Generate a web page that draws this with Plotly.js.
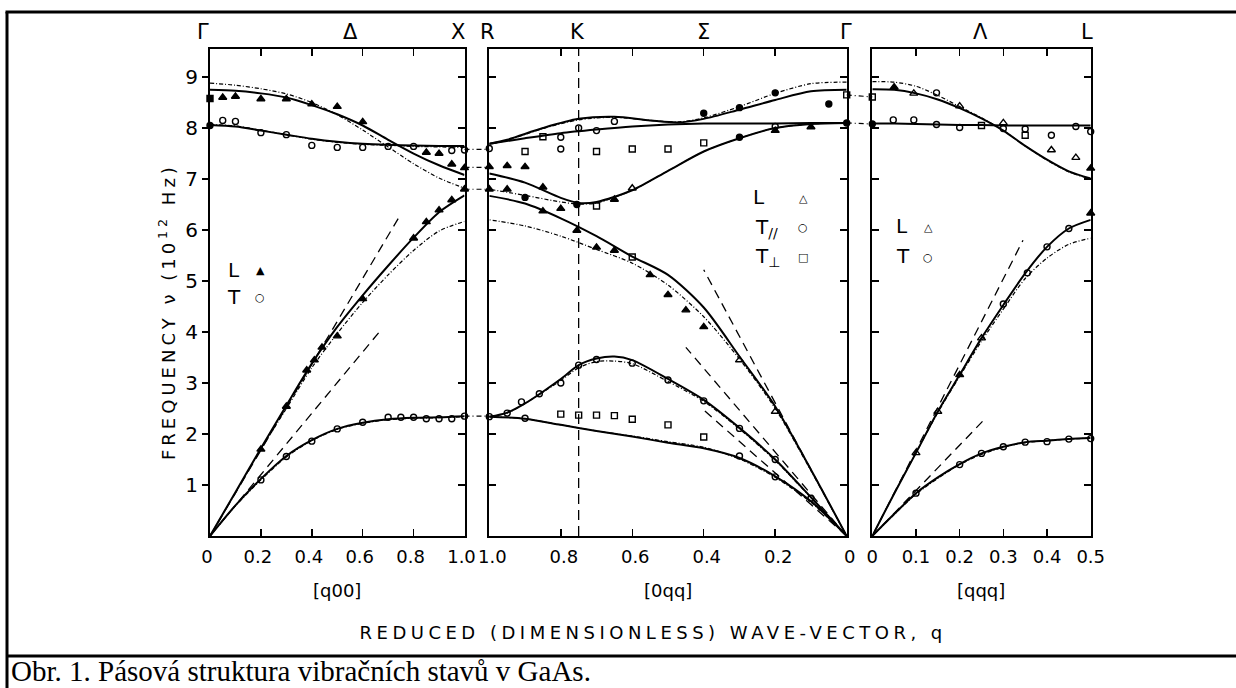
<!DOCTYPE html>
<html><head><meta charset="utf-8">
<script src="https://cdn.plot.ly/plotly-3.0.1.min.js"></script>
<style>html,body{margin:0;padding:0;background:#fff;}#chart{width:1236px;height:688px;}</style>
</head><body><div id="chart"></div>
<script>
// ================= DATA =================
// ---- [q00], Delta direction (left panel), q from 0 (Gamma) to 1 (X) ----
const qDelta = [0,0.1,0.2,0.3,0.4,0.5,0.6,0.7,0.8,0.9,1.0];
const deltaLO_model1 = [8.75,8.73,8.68,8.6,8.45,8.27,8.05,7.77,7.5,7.27,7.08];
const deltaLO_model2 = [8.88,8.84,8.77,8.67,8.5,8.26,7.96,7.63,7.3,7.02,6.82];
const deltaTO_model1 = [8.06,8.03,7.95,7.87,7.79,7.73,7.69,7.67,7.66,7.65,7.65];
const deltaTO_model2 = [8.07,8.04,7.96,7.87,7.78,7.72,7.68,7.66,7.64,7.63,7.62];
const deltaLA_model1 = [0,0.86,1.72,2.56,3.38,4.1,4.72,5.3,5.85,6.35,6.68];
const deltaLA_model2 = [0,0.85,1.7,2.5,3.3,3.97,4.58,5.12,5.6,5.98,6.17];
const deltaTA_model1 = [0,0.6,1.12,1.57,1.88,2.1,2.22,2.29,2.32,2.33,2.35];
const deltaTA_model2 = [0,0.59,1.1,1.55,1.87,2.09,2.21,2.28,2.31,2.32,2.34];
const deltaSoundLA_q = [0,0.74],  deltaSoundLA_v = [0,6.23];
const deltaSoundTA_q = [0,0.665], deltaSoundTA_v = [0,4.0];
const deltaL_q = [0.05,0.1,0.2,0.3,0.4,0.5,0.6,0.85,0.9,0.95,1.0, 0.2,0.3,0.38,0.41,0.44,0.5,0.6,0.8,0.85,0.9,0.95,1.0];
const deltaL_v = [8.6,8.62,8.57,8.57,8.47,8.42,8.12,7.52,7.5,7.29,7.22, 1.7,2.54,3.25,3.45,3.7,3.92,4.65,5.84,6.16,6.39,6.59,6.8];
const deltaT_q = [0.05,0.1,0.2,0.3,0.4,0.5,0.6,0.7,0.8,0.95,1.0, 0.2,0.3,0.4,0.5,0.6,0.7,0.75,0.8,0.85,0.9,0.95,1.0];
const deltaT_v = [8.15,8.13,7.91,7.87,7.66,7.62,7.62,7.64,7.64,7.56,7.57, 1.1,1.56,1.86,2.1,2.23,2.33,2.33,2.33,2.3,2.3,2.3,2.35];
const deltaSq_q = [0];
const deltaSq_v = [8.58];
const deltaDot_q = [0];
const deltaDot_v = [8.05];

// ---- [0qq], Sigma direction (middle panel), q from 1 (X/R side) to 0 (Gamma) ----
const qSigma = [0,0.1,0.2,0.3,0.4,0.5,0.6,0.7,0.8,0.9,1.0];
const sigUpper_q = [0,0.1,0.2,0.3,0.4,0.47,0.55,0.65,0.75,0.85,0.95,1.0];
const sigUpper_model1 = [8.75,8.72,8.55,8.36,8.18,8.11,8.15,8.22,8.18,8.0,7.77,7.69];
const sigUpper_model2 = [8.9,8.87,8.68,8.42,8.2,8.12,8.15,8.21,8.16,7.99,7.76,7.68];
const sigFlat_model1 = [8.1,8.1,8.09,8.09,8.09,8.07,8.03,7.97,7.9,7.8,7.69];
const sigMid_q = [0,0.1,0.2,0.3,0.4,0.5,0.6,0.7,0.75,0.8,0.9,1.0];
const sigMid_model1 = [8.1,8.08,8.0,7.8,7.54,7.16,6.78,6.55,6.53,6.63,6.93,7.11];
const sigMid_model2 = [8.1,8.08,8.0,7.8,7.54,7.16,6.78,6.53,6.51,6.55,6.68,6.8];
const sigLA_model1 = [0,1.3,2.54,3.52,4.48,5.12,5.48,5.88,6.23,6.52,6.67];
const sigLA_model2 = [0,1.28,2.5,3.47,4.3,4.92,5.35,5.62,5.88,6.08,6.2];
const sigTpar_q = [0,0.1,0.2,0.3,0.4,0.5,0.6,0.65,0.7,0.75,0.8,0.9,0.95,1.0];
const sigTpar_model1 = [0,0.76,1.5,2.12,2.67,3.08,3.45,3.52,3.48,3.35,3.08,2.6,2.42,2.34];
const sigTpar_model2 = [0,0.75,1.48,2.1,2.64,3.03,3.38,3.43,3.42,3.3,3.05,2.6,2.41,2.34];
const sigTperp_model1 = [0,0.68,1.17,1.53,1.72,1.83,1.95,2.06,2.18,2.3,2.34];
const sigTperp_model2 = [0,0.66,1.15,1.51,1.74,1.85,1.96,2.06,2.18,2.3,2.34];
const sigSoundLA_q = [0,0.40],   sigSoundLA_v = [0,5.22];
const sigSoundTpar_q = [0,0.45], sigSoundTpar_v = [0,3.7];
const sigSoundTperp_q = [0,0.40],sigSoundTperp_v = [0,2.47];
const sigL_q = [1.0,0.95,0.9,1.0,0.95,0.85,0.8,0.755,0.7,0.65,0.55,0.5,0.45,0.4,0.85,0.65,0.2,0.1];
const sigL_v = [7.24,7.26,7.24,6.8,6.8,6.37,6.42,5.99,5.66,5.6,5.12,4.73,4.43,4.1,6.84,6.6,7.95,8.02];
const sigLopen_q = [0.6,0.3,0.2];
const sigLopen_v = [6.82,3.45,2.44];
const sigDot_q = [0.4,0.3,0.2,0.05,0.3,0.0,0.9,0.755];
const sigDot_v = [8.29,8.40,8.69,8.47,7.82,8.1,6.64,6.5];
const sigTpar_pq = [1.0,0.8,0.8,0.75,0.7,0.65,0.2, 1.0,0.95,0.91,0.86,0.8,0.75,0.7,0.6,0.5,0.4,0.3,0.2,0.1, 0.9,0.3,0.2];
const sigTpar_pv = [7.6,7.82,7.59,8.0,7.95,8.13,8.03, 2.34,2.41,2.63,2.79,3.0,3.35,3.46,3.39,3.06,2.65,2.11,1.5,0.74, 2.31,1.57,1.16];
const sigTperp_pq = [0.9,0.85,0.7,0.6,0.5,0.4,0.0,0.7,0.6, 0.8,0.75,0.7,0.65,0.6,0.5,0.4];
const sigTperp_pv = [7.54,7.83,7.54,7.59,7.59,7.71,8.65,6.47,5.47, 2.39,2.37,2.37,2.36,2.29,2.18,1.94];
const kPointQ = 0.75;

// ---- [qqq], Lambda direction (right panel), q from 0 (Gamma) to 0.5 (L) ----
const qLambda = [0,0.05,0.1,0.15,0.2,0.25,0.3,0.35,0.4,0.45,0.5];
const lamLO_model1 = [8.76,8.75,8.68,8.56,8.39,8.19,7.95,7.65,7.38,7.15,7.01];
const lamLO_model2 = [8.91,8.9,8.82,8.64,8.42,8.2,7.95,7.65,7.37,7.14,7.0];
const lamTO_model1 = [8.09,8.09,8.08,8.07,8.06,8.06,8.05,8.05,8.05,8.05,8.05];
const lamLA_model1 = [0,0.83,1.63,2.44,3.16,3.88,4.53,5.15,5.67,6.03,6.2];
const lamLA_model2 = [0,0.83,1.63,2.42,3.13,3.82,4.45,5.05,5.45,5.72,5.84];
const lamTA_model1 = [0,0.43,0.84,1.15,1.41,1.62,1.75,1.84,1.87,1.9,1.92];
const lamTA_model2 = [0,0.42,0.82,1.13,1.4,1.6,1.74,1.83,1.87,1.9,1.92];
const lamSoundLA_q = [0,0.345], lamSoundLA_v = [0,5.8];
const lamSoundTA_q = [0,0.257], lamSoundTA_v = [0,2.29];
const lamLfilled_q = [0.05,0.2,0.5,0.5];
const lamLfilled_v = [8.8,3.16,7.21,6.33];
const lamLopen_q = [0.1,0.15,0.25,0.095,0.2,0.3,0.41,0.466];
const lamLopen_v = [1.63,2.44,3.88,8.68,8.43,8.1,7.57,7.42];
const lamT_q = [0.3,0.355,0.4,0.45, 0.1,0.2,0.25,0.3,0.35,0.4,0.45,0.5, 0.048,0.095,0.147,0.2,0.3,0.35,0.41,0.466,0.5,0.147];
const lamT_v = [4.55,5.16,5.67,6.03, 0.84,1.4,1.62,1.75,1.84,1.85,1.9,1.91, 8.16,8.16,8.07,8.01,7.99,7.98,7.86,8.03,7.93,8.69];
const lamSq_q = [0,0.25,0.35];
const lamSq_v = [8.61,8.05,7.86];
const lamDot_q = [0];
const lamDot_v = [8.08];

// ---- connections between panels ----
const xPointLinks = [7.58, 7.23, 6.8, 2.35];
const gammaLinksMid = [8.65, 8.1];
const gammaLinksRight = [8.61, 8.08];

// ---- text ----
const symmetryLabels = ['Γ','Δ','X','R','K','Σ','Γ','Λ','L'];
const yTickVals = [1,2,3,4,5,6,7,8,9];
const deltaTicks = [0,0.2,0.4,0.6,0.8,1.0], deltaTickText = ['0','0.2','0.4','0.6','0.8','1.0'];
const sigmaTicks = [1.0,0.8,0.6,0.4,0.2,0], sigmaTickText = ['1.0','0.8','0.6','0.4','0.2','0'];
const lambdaTicks = [0,0.1,0.2,0.3,0.4,0.5], lambdaTickText = ['0','0.1','0.2','0.3','0.4','0.5'];
const directionLabels = ['[q00]','[0qq]','[qqq]'];
const xTitle = 'REDUCED (DIMENSIONLESS) WAVE-VECTOR, q';
const yTitle = 'FREQUENCY ν (10<sup>12</sup> Hz)';
const caption = 'Obr. 1. Pásová struktura vibračních stavů v GaAs.';

// ================= DRAWING =================
const W = 1236, H = 688;
const PX = v => v / W, PY = v => 1 - v / H;
const YR = [0, 9.55];
const traces = [];
const lineStyles = {
  solid: {width: 2, color: '#000'},
  alt:   {width: 1.2, color: '#000', dash: '4px,2px,1px,2px'},
  sound: {width: 1.3, color: '#000', dash: '9px,6px'}
};
function curve(xa, ya, q, v, kind) {
  traces.push({type: 'scatter', mode: 'lines', x: q, y: v, xaxis: xa, yaxis: ya,
    line: Object.assign({shape: kind === 'sound' ? 'linear' : 'spline', smoothing: 0.8}, lineStyles[kind]),
    hoverinfo: 'skip', showlegend: false});
}
function points(xa, ya, q, v, symbol, size) {
  traces.push({type: 'scatter', mode: 'markers', x: q, y: v, xaxis: xa, yaxis: ya,
    marker: {symbol: symbol, size: size, color: '#000', line: {width: 1.4, color: '#000'}},
    cliponaxis: false, hoverinfo: 'skip', showlegend: false});
}
// left
curve('x','y', qDelta, deltaLO_model2, 'alt');
curve('x','y', qDelta, deltaTO_model2, 'alt');
curve('x','y', qDelta, deltaLA_model2, 'alt');
curve('x','y', qDelta, deltaTA_model2, 'alt');
curve('x','y', qDelta, deltaLO_model1, 'solid');
curve('x','y', qDelta, deltaTO_model1, 'solid');
curve('x','y', qDelta, deltaLA_model1, 'solid');
curve('x','y', qDelta, deltaTA_model1, 'solid');
curve('x','y', deltaSoundLA_q, deltaSoundLA_v, 'sound');
curve('x','y', deltaSoundTA_q, deltaSoundTA_v, 'sound');
points('x','y', deltaL_q, deltaL_v, 'triangle-up', 7);
points('x','y', deltaT_q, deltaT_v, 'circle-open', 6);
points('x','y', deltaSq_q, deltaSq_v, 'square', 6);
points('x','y', deltaDot_q, deltaDot_v, 'circle', 6);
traces.push({type:'scatter', mode:'lines', x:[], y:[], xaxis:'x', yaxis:'y4', showlegend:false, hoverinfo:'skip'});
// middle
curve('x2','y2', sigUpper_q, sigUpper_model2, 'alt');
curve('x2','y2', sigMid_q, sigMid_model2, 'alt');
curve('x2','y2', qSigma, sigLA_model2, 'alt');
curve('x2','y2', sigTpar_q, sigTpar_model2, 'alt');
curve('x2','y2', qSigma, sigTperp_model2, 'alt');
curve('x2','y2', sigUpper_q, sigUpper_model1, 'solid');
curve('x2','y2', qSigma, sigFlat_model1, 'solid');
curve('x2','y2', sigMid_q, sigMid_model1, 'solid');
curve('x2','y2', qSigma, sigLA_model1, 'solid');
curve('x2','y2', sigTpar_q, sigTpar_model1, 'solid');
curve('x2','y2', qSigma, sigTperp_model1, 'solid');
curve('x2','y2', sigSoundLA_q, sigSoundLA_v, 'sound');
curve('x2','y2', sigSoundTpar_q, sigSoundTpar_v, 'sound');
curve('x2','y2', sigSoundTperp_q, sigSoundTperp_v, 'sound');
points('x2','y2', sigL_q, sigL_v, 'triangle-up', 7);
points('x2','y2', sigLopen_q, sigLopen_v, 'triangle-up-open', 7);
points('x2','y2', sigDot_q, sigDot_v, 'circle', 6);
points('x2','y2', sigTpar_pq, sigTpar_pv, 'circle-open', 6);
points('x2','y2', sigTperp_pq, sigTperp_pv, 'square-open', 6);
// right
curve('x3','y3', qLambda, lamLO_model2, 'alt');
curve('x3','y3', qLambda, lamLA_model2, 'alt');
curve('x3','y3', qLambda, lamTA_model2, 'alt');
curve('x3','y3', qLambda, lamLO_model1, 'solid');
curve('x3','y3', qLambda, lamTO_model1, 'solid');
curve('x3','y3', qLambda, lamLA_model1, 'solid');
curve('x3','y3', qLambda, lamTA_model1, 'solid');
curve('x3','y3', lamSoundLA_q, lamSoundLA_v, 'sound');
curve('x3','y3', lamSoundTA_q, lamSoundTA_v, 'sound');
points('x3','y3', lamLfilled_q, lamLfilled_v, 'triangle-up', 7);
points('x3','y3', lamLopen_q, lamLopen_v, 'triangle-up-open', 7);
points('x3','y3', lamT_q, lamT_v, 'circle-open', 6);
points('x3','y3', lamSq_q, lamSq_v, 'square-open', 6);
points('x3','y3', lamDot_q, lamDot_v, 'circle', 6);

// panel geometry (pixels)
const P = {L: [210, 464.5], M: [489.3, 846.7], R: [872.3, 1090.7], top: 49, bottom: 536};
const yDomain = [PY(P.bottom), PY(P.top)];
const tickFontX = {family: 'DejaVu Sans', size: 18, color: '#000'};
const tickFontY = {family: 'DejaVu Sans', size: 20, color: '#000'};
const axBase = {showline: true, linecolor: '#000', linewidth: 2, ticks: 'inside', ticklen: 7, tickwidth: 1.5,
  tickcolor: '#000', showgrid: false, zeroline: false, fixedrange: true};
function xa(dom, range, vals, text, anchor, shift) {
  return Object.assign({}, axBase, {domain: [PX(dom[0]), PX(dom[1])], range: range, anchor: anchor,
    tickmode: 'array', tickvals: vals, ticktext: text, mirror: 'ticks', tickfont: tickFontX,
    ticklabelstandoff: 3, ticklabelshift: shift});
}
function ya(anchor, labels) {
  return Object.assign({}, axBase, {domain: yDomain, range: YR, anchor: anchor, tickmode: 'array',
    tickvals: yTickVals, mirror: 'ticks', showticklabels: labels, tickfont: tickFontY});
}
const yLeft = ya('x', true);
yLeft.ticks = 'outside'; yLeft.ticklen = 6; yLeft.mirror = true;
const yLeftRight = Object.assign({}, axBase, {overlaying: 'y', anchor: 'x', side: 'right', range: YR,
  tickmode: 'array', tickvals: yTickVals, showticklabels: false, showline: false});

const ann = [];
const symX = [203, 350, 458, 488, 577, 703, 846, 980, 1087];
symmetryLabels.forEach((s, i) => ann.push({text: s, xref: 'paper', yref: 'paper', x: PX(symX[i]), y: PY(32),
  showarrow: false, xanchor: 'center', yanchor: 'middle', font: {family: 'DejaVu Sans', size: 21, color: '#000'}}));
const dirX = [337, 668, 981];
directionLabels.forEach((s, i) => ann.push({text: s, xref: 'paper', yref: 'paper', x: PX(dirX[i]), y: PY(590),
  showarrow: false, xanchor: 'center', yanchor: 'middle', font: {family: 'DejaVu Sans', size: 18, color: '#000'}}));
ann.push({text: xTitle, xref: 'paper', yref: 'paper', x: PX(653), y: PY(632), showarrow: false,
  xanchor: 'center', yanchor: 'middle', font: {family: 'DejaVu Sans', size: 18, color: '#000'}});
ann.push({text: yTitle, xref: 'paper', yref: 'paper', x: PX(167), y: PY(312), showarrow: false, textangle: -90,
  xanchor: 'center', yanchor: 'middle', font: {family: 'DejaVu Sans', size: 18, color: '#000'}});
ann.push({text: caption, xref: 'paper', yref: 'paper', x: PX(9), y: PY(671), showarrow: false,
  xanchor: 'left', yanchor: 'middle', font: {family: 'Liberation Serif', size: 29, color: '#000'}});
// legends
const legF = {family: 'DejaVu Sans', size: 20, color: '#000'};
const symF = {family: 'DejaVu Sans', size: 11, color: '#000'};
function leg(txt, x, y, font, anchor) {
  ann.push({text: txt, xref: 'paper', yref: 'paper', x: PX(x), y: PY(y), showarrow: false,
    xanchor: anchor || 'center', yanchor: 'middle', font: font});
}
leg('L', 234, 270, legF); leg('▲', 260, 271, symF);
leg('T', 234, 297, legF); leg('○', 260, 297, symF);
leg('L', 759, 197, legF); leg('△', 803, 199, symF);
leg('T<sub>//</sub>', 753, 228, legF, 'left'); leg('○', 803, 227, symF);
leg('T<sub>⊥</sub>', 753, 257, legF, 'left'); leg('□', 803, 257, symF);
leg('L', 902, 226, legF); leg('△', 928, 228, symF);
leg('T', 903, 256, legF); leg('○', 928, 257, symF);

const shapes = [];
const frameLine = {color: '#000', width: 3};
shapes.push({type: 'line', xref: 'paper', yref: 'paper', x0: PX(5.5), x1: 1, y0: PY(12), y1: PY(12), line: frameLine});
shapes.push({type: 'line', xref: 'paper', yref: 'paper', x0: PX(7), x1: PX(7), y0: PY(12), y1: 0, line: frameLine});
shapes.push({type: 'line', xref: 'paper', yref: 'paper', x0: PX(7), x1: 1, y0: PY(656), y1: PY(656), line: frameLine});
const linkLine = {color: '#000', width: 1.2, dash: '5px,3px,1px,3px'};
xPointLinks.forEach(v => shapes.push({type: 'line', xref: 'paper', yref: 'y', x0: PX(P.L[1]), x1: PX(P.M[0]), y0: v, y1: v, line: linkLine}));
gammaLinksMid.forEach((v, i) => shapes.push({type: 'line', xref: 'paper', yref: 'y', x0: PX(P.M[1]), x1: PX(P.R[0]), y0: v, y1: gammaLinksRight[i], line: linkLine}));
shapes.push({type: 'line', xref: 'x2', yref: 'y2 domain', x0: kPointQ, x1: kPointQ, y0: 0, y1: 1,
  line: {color: '#000', width: 1.3, dash: '10px,6px'}});

const layout = {
  width: W, height: H, margin: {l: 0, r: 0, t: 0, b: 0}, showlegend: false,
  paper_bgcolor: '#fff', plot_bgcolor: 'rgba(0,0,0,0)', font: {family: 'DejaVu Sans', color: '#000'},
  xaxis: xa(P.L, [0, 1], deltaTicks, deltaTickText, 'y', -3),
  yaxis: yLeft,
  xaxis2: xa(P.M, [1, 0], sigmaTicks, sigmaTickText, 'y2', -3),
  yaxis2: ya('x2', false),
  xaxis3: xa(P.R, [0, 0.5], lambdaTicks, lambdaTickText, 'y3', 0),
  yaxis3: ya('x3', false),
  yaxis4: yLeftRight,
  annotations: ann, shapes: shapes
};
Plotly.newPlot('chart', traces, layout, {staticPlot: true, displayModeBar: false}).then(gd => {
  gd.querySelectorAll('.annotation-text').forEach(t => {
    if (t.textContent.indexOf('REDUCED') === 0) t.style.letterSpacing = '4.5px';
    if (t.textContent.indexOf('FREQUENCY') === 0) t.style.letterSpacing = '4px';
  });
});
</script>
</body></html>
